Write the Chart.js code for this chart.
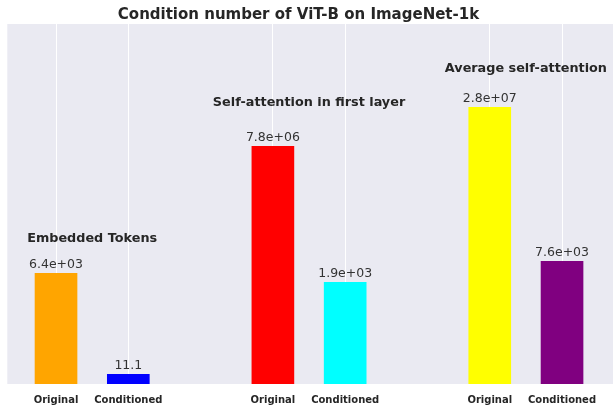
<!DOCTYPE html>
<html>
<head>
<meta charset="utf-8">
<script src="https://cdn.jsdelivr.net/npm/chart.js@4.4.1/dist/chart.umd.min.js"></script>
<style>
  html, body { margin: 0; padding: 0; background: #ffffff; }
  #wrap { width: 613px; height: 409px; position: relative; }
</style>
</head>
<body>
<div id="wrap"><canvas id="c" width="613" height="409"></canvas></div>
<script>
// ---- data ----
const barPositions = [0, 1, 3, 4, 6, 7];
const tickLabels = ['Original', 'Conditioned', 'Original', 'Conditioned', 'Original', 'Conditioned'];
// bar heights as drawn (hidden y axis, arbitrary units)
const barHeights = [111, 10, 238, 102, 277, 123];
// numbers printed above the bars
const valueLabels = ['6.4e+03', '11.1', '7.8e+06', '1.9e+03', '2.8e+07', '7.6e+03'];
const barColors = ['#FFA500', '#0000FF', '#FF0000', '#00FFFF', '#FFFF00', '#800080'];
const groupTitles = ['Embedded Tokens', 'Self-attention in first layer', 'Average self-attention'];
const groupTitleX = [0.5, 3.5, 6.5];
const groupTitleY = [142, 278, 312];
const chartTitle = 'Condition number of ViT-B on ImageNet-1k';

const FONT = "'DejaVu Sans', 'Liberation Sans', sans-serif";
const TEXT = '#262626';

const bgPlugin = {
  id: 'bg',
  beforeDraw(chart) {
    const { ctx, chartArea: a } = chart;
    ctx.save();
    ctx.fillStyle = '#EAEAF2';
    ctx.fillRect(a.left, a.top, a.right - a.left, a.bottom - a.top);
    ctx.restore();
  }
};

const textPlugin = {
  id: 'texts',
  afterDatasetsDraw(chart) {
    const { ctx } = chart;
    const xs = chart.scales.x, ys = chart.scales.y;
    ctx.save();
    ctx.textAlign = 'center';
    ctx.textBaseline = 'alphabetic';
    // value labels
    ctx.fillStyle = '#333333';
    ctx.font = '12.5px ' + FONT;
    const meta = chart.getDatasetMeta(0);
    meta.data.forEach((bar, i) => {
      ctx.fillText(valueLabels[i], bar.x, bar.y - 5.5);
    });
    // group titles
    ctx.fillStyle = TEXT;
    ctx.font = 'bold 12.8px ' + FONT;
    groupTitles.forEach((t, i) => {
      ctx.fillText(t, xs.getPixelForValue(groupTitleX[i]), ys.getPixelForValue(groupTitleY[i]));
    });
    // chart title
    ctx.font = 'bold 15px ' + FONT;
    ctx.fillText(chartTitle, 298.5, 18.5);
    ctx.restore();
  }
};

new Chart(document.getElementById('c'), {
  type: 'bar',
  data: {
    datasets: [{
      data: barPositions.map((x, i) => ({ x: x, y: barHeights[i] })),
      backgroundColor: barColors,
      borderWidth: 0,
      categoryPercentage: 1,
      barPercentage: 0.59
    }]
  },
  options: {
    responsive: false,
    animation: false,
    devicePixelRatio: 1,
    layout: { padding: { left: 7.3, top: 24, right: 0, bottom: 0 } },
    plugins: { legend: { display: false }, tooltip: { enabled: false }, title: { display: false } },
    scales: {
      x: {
        type: 'linear',
        min: -0.674,
        max: 7.705,
        offset: false,
        border: { display: false },
        grid: { color: '#ffffff', lineWidth: 1, drawTicks: false, offset: false },
        afterBuildTicks(scale) { scale.ticks = barPositions.map(v => ({ value: v })); },
        afterFit(scale) { scale.height = 25; },
        ticks: {
          autoSkip: false,
          maxRotation: 0,
          padding: 10.5,
          color: TEXT,
          font: { family: FONT, size: 10, weight: 'bold' },
          callback(v) { const i = barPositions.indexOf(v); return i >= 0 ? tickLabels[i] : ''; }
        }
      },
      y: {
        type: 'linear',
        display: false,
        min: 0,
        max: 360
      }
    }
  },
  plugins: [bgPlugin, textPlugin]
});
</script>
</body>
</html>
